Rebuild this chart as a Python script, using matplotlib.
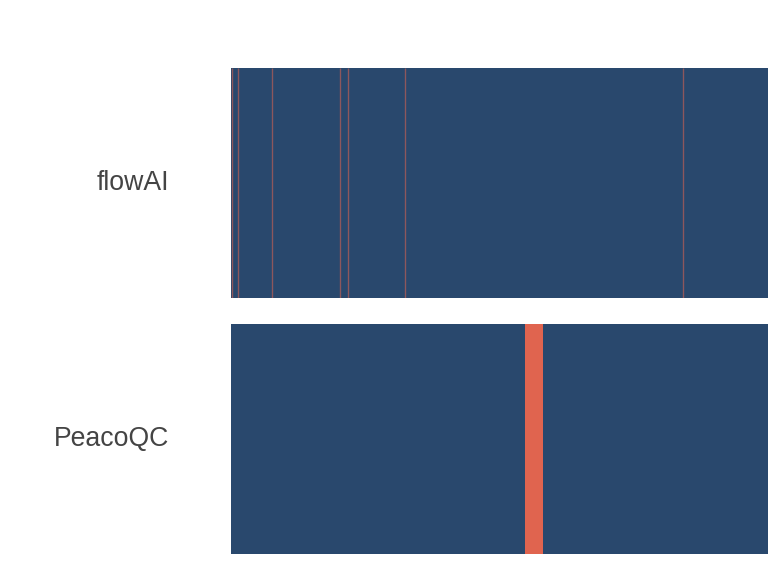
import matplotlib
matplotlib.use("Agg")
import matplotlib.pyplot as plt

# event index axis (0..1000), flagged positions per method
methods = ["flowAI", "PeacoQC"]
flowai_flags = [1, 13, 76, 203, 218, 324, 840]
peacoqc_starts = [547]
peacoqc_widths = [34]
n_events = 1000

good = "#29486D"
bad = "#E0644F"

fig = plt.figure(figsize=(8, 6), dpi=96)
plt.rcParams["font.family"] = ["Liberation Sans", "DejaVu Sans"]

# flowAI: thin flagged lines
ax1 = fig.add_axes([0.3008, 0.4826, 0.70, 0.3993])
ax1.broken_barh([(0, n_events)], (0, 1), facecolor=good, edgecolor="none")
ax1.vlines(flowai_flags, 0, 1, colors=bad, linewidth=1.0, alpha=0.55)
ax1.set_xlim(0, n_events)
ax1.set_ylim(0, 1)
ax1.axis("off")
ax1.text(-0.115, 0.5, methods[0], transform=ax1.transAxes, ha="right",
         va="center", fontsize=20, color="#444444")

# PeacoQC: one flagged block
ax2 = fig.add_axes([0.3008, 0.0382, 0.70, 0.3993])
ax2.broken_barh([(0, n_events)], (0, 1), facecolor=good, edgecolor="none")
ax2.broken_barh(list(zip(peacoqc_starts, peacoqc_widths)), (0, 1),
                facecolor=bad, edgecolor="none")
ax2.set_xlim(0, n_events)
ax2.set_ylim(0, 1)
ax2.axis("off")
ax2.text(-0.115, 0.5, methods[1], transform=ax2.transAxes, ha="right",
         va="center", fontsize=20, color="#444444")

plt.savefig("out.png", dpi=96)
